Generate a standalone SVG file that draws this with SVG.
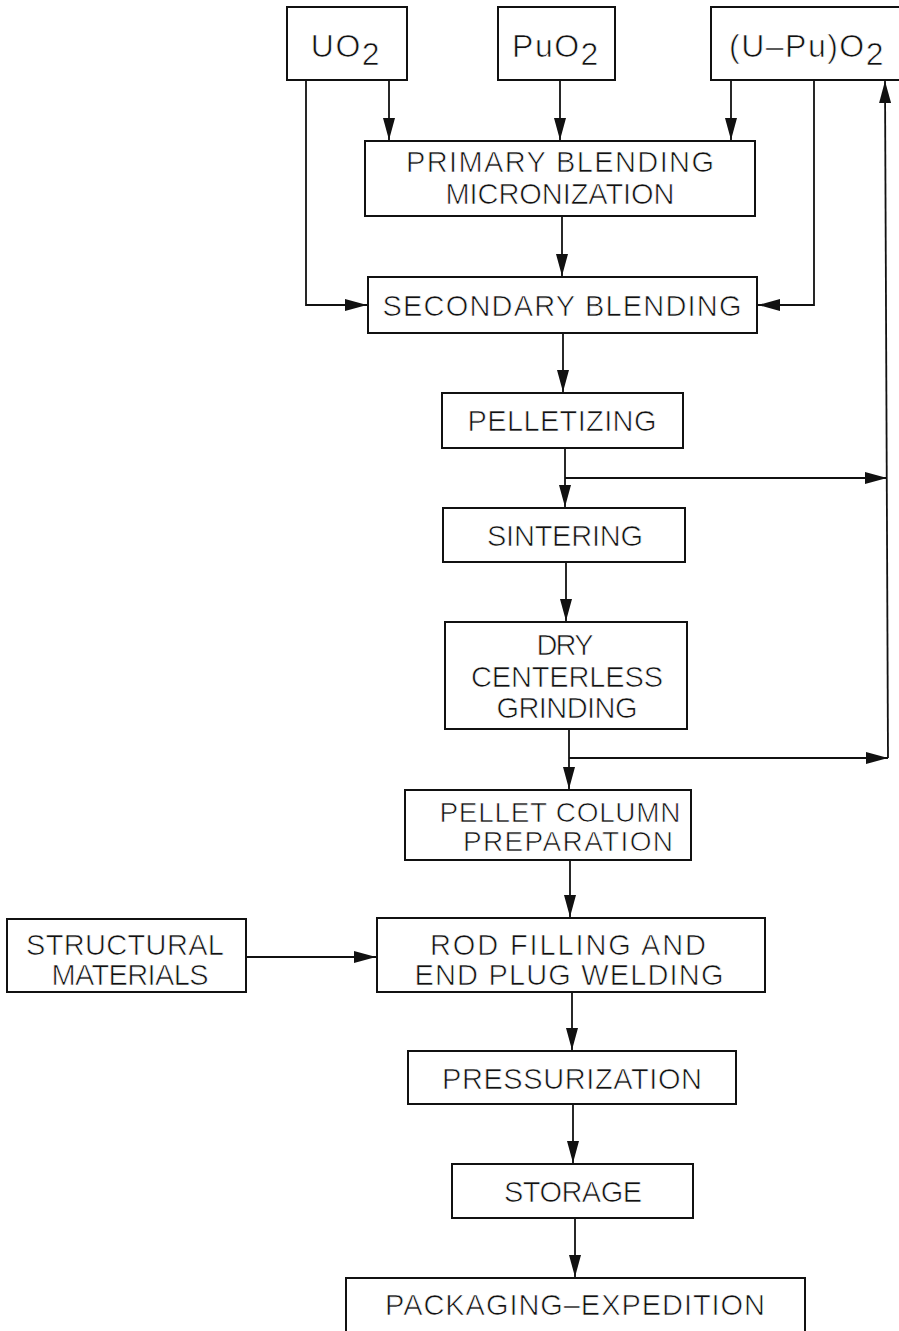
<svg xmlns="http://www.w3.org/2000/svg" width="899" height="1331" viewBox="0 0 899 1331">
<defs>
<style>
.box{fill:#fff;stroke:#111;stroke-width:2}
.ln{fill:none;stroke:#111;stroke-width:1.8}
.arr{marker-end:url(#ah)}
text{font-family:"Liberation Sans",Arial,sans-serif;font-size:29px;fill:#111;stroke:#fff;stroke-width:0.7px;text-anchor:middle}
.top{font-size:32px;letter-spacing:1.5px}
.sm{font-size:28px}
</style>
<marker id="ah" markerUnits="userSpaceOnUse" markerWidth="24" markerHeight="14" refX="22" refY="6" orient="auto">
<path d="M0,0 L22,6 L0,12 z" fill="#111"/>
</marker>
</defs>
<rect width="899" height="1331" fill="#fff"/>
<g id="connectors">
<path class="ln arr" d="M306,80 V305 H367"/>
<path class="ln arr" d="M389,80 V140"/>
<path class="ln arr" d="M560,80 V140"/>
<path class="ln arr" d="M731,80 V140"/>
<path class="ln arr" d="M814,80 V305 H758"/>
<path class="ln arr" d="M562,216 V276"/>
<path class="ln arr" d="M563,333 V392"/>
<path class="ln arr" d="M565,448 V507"/>
<path class="ln arr" d="M565,478 H887"/>
<path class="ln arr" d="M566,562 V621"/>
<path class="ln arr" d="M569,729 V789"/>
<path class="ln arr" d="M569,758 H888"/>
<path class="ln arr" d="M888,758 L885,81"/>
<path class="ln arr" d="M570,860 V917"/>
<path class="ln arr" d="M246,957 H376"/>
<path class="ln arr" d="M572,992 V1050"/>
<path class="ln arr" d="M573,1104 V1163"/>
<path class="ln arr" d="M575,1218 V1277"/>
</g>
<g id="uo2">
<rect class="box" x="287" y="7" width="120" height="73"/>
<text class="top" x="346" y="57">UO<tspan dy="8">2</tspan></text>
</g>
<g id="puo2">
<rect class="box" x="498" y="7" width="117" height="73"/>
<text class="top" x="556" y="57">PuO<tspan dy="8">2</tspan></text>
</g>
<g id="upuo2">
<rect class="box" x="711" y="7" width="200" height="73"/>
<text class="top" x="807" y="57">(U–Pu)O<tspan dy="8">2</tspan></text>
</g>
<g id="primary">
<rect class="box" x="365" y="141" width="390" height="75"/>
<text x="560" y="172" textLength="308" lengthAdjust="spacing">PRIMARY BLENDING</text>
<text x="560" y="204" textLength="229" lengthAdjust="spacing">MICRONIZATION</text>
</g>
<g id="secondary">
<rect class="box" x="368" y="277" width="389" height="56"/>
<text x="562" y="316" textLength="359" lengthAdjust="spacing">SECONDARY BLENDING</text>
</g>
<g id="pelletizing">
<rect class="box" x="442" y="393" width="241" height="55"/>
<text x="562" y="431" textLength="189" lengthAdjust="spacing">PELLETIZING</text>
</g>
<g id="sintering">
<rect class="box" x="443" y="508" width="242" height="54"/>
<text x="565" y="546" textLength="156" lengthAdjust="spacing">SINTERING</text>
</g>
<g id="grinding">
<rect class="box" x="445" y="622" width="242" height="107"/>
<text x="565" y="655" textLength="57" lengthAdjust="spacing">DRY</text>
<text x="567" y="687" textLength="192" lengthAdjust="spacing">CENTERLESS</text>
<text x="567" y="718" textLength="141" lengthAdjust="spacing">GRINDING</text>
</g>
<g id="pelletcolumn">
<rect class="box" x="405" y="790" width="286" height="70"/>
<text class="sm" x="560" y="822" textLength="241" lengthAdjust="spacing">PELLET COLUMN</text>
<text class="sm" x="568" y="851" textLength="210" lengthAdjust="spacing">PREPARATION</text>
</g>
<g id="structural">
<rect class="box" x="7" y="919" width="239" height="73"/>
<text x="125" y="955" textLength="198" lengthAdjust="spacing">STRUCTURAL</text>
<text x="130" y="985" textLength="157" lengthAdjust="spacing">MATERIALS</text>
</g>
<g id="rodfilling">
<rect class="box" x="377" y="918" width="388" height="74"/>
<text x="568" y="955" textLength="276" lengthAdjust="spacing">ROD FILLING AND</text>
<text x="569" y="985" textLength="309" lengthAdjust="spacing">END PLUG WELDING</text>
</g>
<g id="pressurization">
<rect class="box" x="408" y="1051" width="328" height="53"/>
<text x="572" y="1089" textLength="260" lengthAdjust="spacing">PRESSURIZATION</text>
</g>
<g id="storage">
<rect class="box" x="452" y="1164" width="241" height="54"/>
<text x="573" y="1202" textLength="138" lengthAdjust="spacing">STORAGE</text>
</g>
<g id="packaging">
<rect class="box" x="346" y="1278" width="459" height="70"/>
<text x="575" y="1315" textLength="380" lengthAdjust="spacing">PACKAGING–EXPEDITION</text>
</g>
</svg>
